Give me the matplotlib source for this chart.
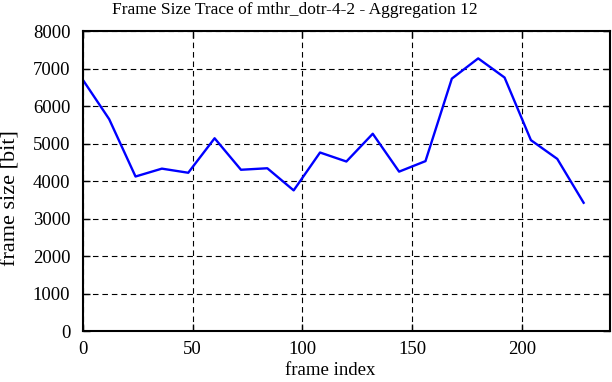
import matplotlib
matplotlib.use("Agg")
import matplotlib.pyplot as plt

# frame index (aggregation 12) and frame size
frame_index = [0, 12, 24, 36, 48, 60, 72, 84, 96, 108, 120, 132, 144, 156, 168, 180, 192, 204, 216, 228]
frame_size = [6700, 5650, 4120, 4330, 4220, 5140, 4300, 4340, 3750, 4760,
              4520, 5260, 4250, 4530, 6730, 7270, 6760, 5090, 4590, 3420]

plt.rcParams['font.family'] = ['Liberation Serif', 'DejaVu Serif']
plt.rcParams['font.size'] = 13.5

fig = plt.figure(figsize=(6.12, 3.82), dpi=100)
ax = fig.add_axes([0.1353, 0.1335, 0.8614, 0.7853])
ax.plot(frame_index, frame_size, color='#0000ff', lw=1.7)
ax.set_xlim(0, 240)
ax.set_ylim(0, 8000)
ax.set_xticks([0, 50, 100, 150, 200])
ax.set_yticks(range(0, 8001, 1000))
ax.grid(True, color='black', linestyle=(0, (5, 3.5)), lw=0.8)
ax.tick_params(direction='in', top=True, right=True, length=5, width=1, colors='black')
ax.tick_params(axis='y', pad=9)
ax.tick_params(axis='x', pad=7)
for s in ax.spines.values():
    s.set_linewidth(1.5)
ax.set_xlabel('frame index')
ax.xaxis.set_label_coords(0.469, -0.103)
ax.set_ylabel('frame size [bit]', fontsize=16)
ax.yaxis.set_label_coords(-0.118, 0.443)
fig.text(295 / 612, 1 - 10 / 382, 'Frame Size Trace of mthr_dotr-4-2 - Aggregation 12',
         ha='center', va='center', fontsize=12.5)
fig.savefig('out.png', dpi=100)
